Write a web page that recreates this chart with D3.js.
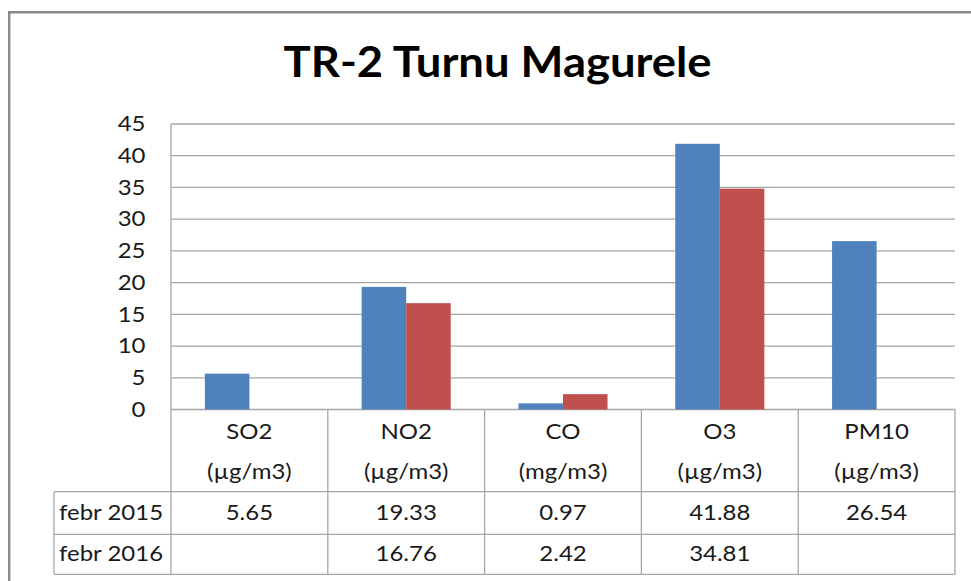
<!DOCTYPE html>
<html><head><meta charset="utf-8">
<script src="https://cdn.jsdelivr.net/npm/d3@7"></script>
<style>
html,body{margin:0;padding:0;background:#fff;}
svg{display:block;font-family:Lato,"Open Sans",sans-serif;}
</style></head>
<body>
<script>
const title = "TR-2 Turnu Magurele";
const categories = ["SO2","NO2","CO","O3","PM10"];
const units = ["(µg/m3)","(µg/m3)","(mg/m3)","(µg/m3)","(µg/m3)"];
const seriesNames = ["febr 2015","febr 2016"];
const values2015 = [5.65,19.33,0.97,41.88,26.54];
const values2016 = [null,16.76,2.42,34.81,null];
const yTicks = [0,5,10,15,20,25,30,35,40,45];
const colors = ["#4F81BD","#C0504D"];

const W=971,H=581;
const plotL=171, plotR=955, plotT=124, plotB=409.5;
const tableL=54, headB=491.7, row1B=534.3, row2B=574.3;
const SX=1.17, FS=20.5, TXT="#1a1a1a";

const svg=d3.select("body").append("svg").attr("width",W).attr("height",H);

function label(parent,x,y,str,anchor,size,sx,weight,fill){
  const g=parent.append("g").attr("transform",`translate(${x},${y})`);
  g.append("text").attr("transform",`scale(${sx},1)`).attr("text-anchor",anchor)
    .attr("dy","0.35em").attr("font-size",size).attr("font-weight",weight||"normal")
    .attr("fill",fill||TXT).text(str);
  return g;
}

// outer frame
svg.append("path").attr("d",`M9.2,${H} L9.2,12.3 L${W},12.3`).attr("fill","none").attr("stroke","#8a8a8a").attr("stroke-width",2.4);

// title
svg.append("g").attr("transform","translate(497.5,77.3)")
  .append("text").attr("transform","scale(1.094,1)").attr("text-anchor","middle")
  .attr("font-size",41.5).attr("font-weight","bold").attr("fill","#000").text(title);

const x=d3.scaleBand().domain(categories).range([plotL,plotR]).padding(0);
const x1=d3.scaleBand().domain([0,1]).range([x.bandwidth()*0.216,x.bandwidth()*0.784]).padding(0);
const y=d3.scaleLinear().domain([0,45]).range([plotB,plotT]);

const gridColor="#a6a6a6";
// gridlines
svg.append("g").selectAll("line").data(yTicks).join("line")
  .attr("x1",plotL).attr("x2",plotR).attr("y1",d=>y(d)).attr("y2",d=>y(d))
  .attr("stroke",gridColor).attr("stroke-width",1.3);
// y labels
const yl=svg.append("g");
yTicks.forEach(t=>label(yl,145.5,y(t),String(t),"end",FS,SX));
// left axis line
svg.append("line").attr("x1",plotL).attr("x2",plotL).attr("y1",plotT).attr("y2",plotB)
  .attr("stroke",gridColor).attr("stroke-width",1.3);

// bars
const series=[values2015,values2016];
series.forEach((vals,si)=>{
  svg.append("g").selectAll("rect").data(categories.map((c,i)=>({c,v:vals[i]})).filter(d=>d.v!=null)).join("rect")
    .attr("x",d=>x(d.c)+x1(si)).attr("width",x1.bandwidth())
    .attr("y",d=>y(d.v)).attr("height",d=>y(0)-y(d.v))
    .attr("fill",colors[si]);
});

// table lines
const tg=svg.append("g").attr("stroke",gridColor).attr("stroke-width",1.3);
const bounds=categories.map(c=>x(c)).concat([plotR]);
bounds.forEach(b=>tg.append("line").attr("x1",b).attr("x2",b).attr("y1",plotB).attr("y2",row2B));
tg.append("line").attr("x1",tableL).attr("x2",tableL).attr("y1",headB).attr("y2",row2B);
[headB,row1B,row2B].forEach(yy=>tg.append("line").attr("x1",tableL).attr("x2",plotR).attr("y1",yy).attr("y2",yy));

// category header text
const hg=svg.append("g");
categories.forEach((c,i)=>{
  const cx=x(c)+x.bandwidth()/2;
  label(hg,cx,432,c,"middle",FS,SX);
  label(hg,cx,472,units[i],"middle",FS,SX);
});
// rows
const rowCenters=[513,554];
const rg=svg.append("g");
series.forEach((vals,si)=>{
  label(rg,59,rowCenters[si],seriesNames[si],"start",FS,SX);
  vals.forEach((v,i)=>{
    if(v==null) return;
    label(rg,x(categories[i])+x.bandwidth()/2,rowCenters[si],v.toFixed(2),"middle",FS,SX);
  });
});
</script>
</body></html>
